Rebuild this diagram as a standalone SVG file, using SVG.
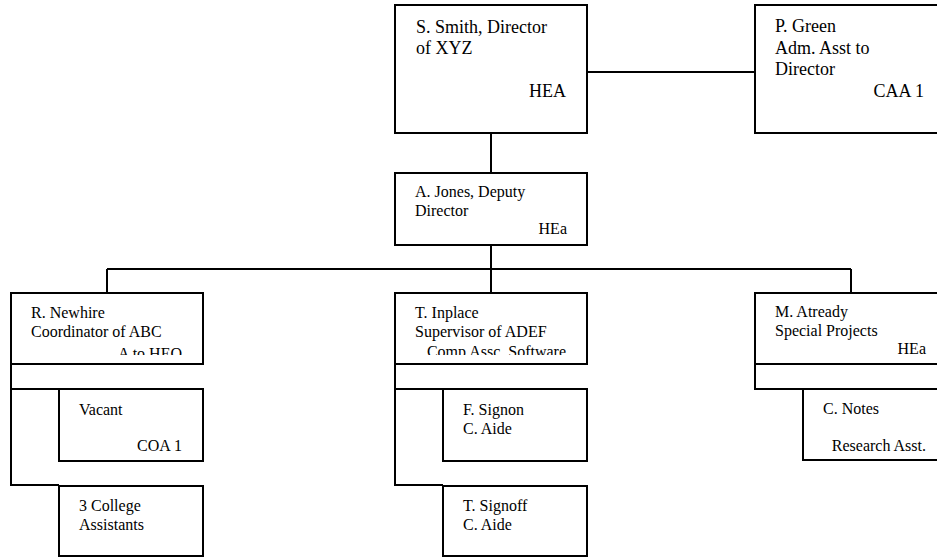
<svg xmlns="http://www.w3.org/2000/svg" width="937" height="557" viewBox="0 0 937 557">
<style>
  .box { fill: #fff; stroke: #000; stroke-width: 2; }
  .ln { stroke: #000; stroke-width: 2; fill: none; }
  .t { font-family: 'Liberation Serif', 'DejaVu Serif', serif; fill: #000; }
  .big { font-size: 18px; }
  .sm { font-size: 16px; }
  .r { text-anchor: end; }
</style>
<defs>
  <clipPath id="clipL"><rect x="11" y="293" width="192" height="62"/></clipPath>
  <clipPath id="clipM"><rect x="395" y="293" width="192" height="62"/></clipPath>
</defs>
<rect x="0" y="0" width="937" height="557" fill="#fff"/>
<g id="connectors">
  <line class="ln" x1="587" y1="72" x2="755" y2="72"/>
  <line class="ln" x1="491" y1="133" x2="491" y2="173"/>
  <line class="ln" x1="491" y1="245" x2="491" y2="293"/>
  <line class="ln" x1="107" y1="269" x2="851" y2="269"/>
  <line class="ln" x1="107" y1="269" x2="107" y2="293"/>
  <line class="ln" x1="851" y1="269" x2="851" y2="293"/>
  <polyline class="ln" points="11,364 11,485 59,485"/>
  <line class="ln" x1="11" y1="389" x2="59" y2="389"/>
  <polyline class="ln" points="395,364 395,485 443,485"/>
  <line class="ln" x1="395" y1="389" x2="443" y2="389"/>
  <polyline class="ln" points="755,364 755,389 803,389"/>
</g>
<g id="smith" class="t" font-family="Liberation Serif, serif">
  <rect class="box" x="395" y="5" width="192" height="128"/>
  <text class="t big" x="416" y="33">S. Smith, Director</text>
  <text class="t big" x="416" y="54">of XYZ</text>
  <text class="t big r" x="566" y="97">HEA</text>
</g>
<g id="green" class="t" font-family="Liberation Serif, serif">
  <rect class="box" x="755" y="5" width="200" height="128"/>
  <text class="t big" x="775" y="32">P. Green</text>
  <text class="t big" x="775" y="54">Adm. Asst to</text>
  <text class="t big" x="775" y="75">Director</text>
  <text class="t big r" x="924" y="97">CAA 1</text>
</g>
<g id="jones" class="t" font-family="Liberation Serif, serif">
  <rect class="box" x="395" y="173" width="192" height="72"/>
  <text class="t sm" x="415" y="197">A. Jones, Deputy</text>
  <text class="t sm" x="415" y="216">Director</text>
  <text class="t sm r" x="567" y="234">HEa</text>
</g>
<g id="newhire" class="t" font-family="Liberation Serif, serif">
  <rect class="box" x="11" y="293" width="192" height="71"/>
  <text class="t sm" x="31" y="318">R. Newhire</text>
  <text class="t sm" x="31" y="337">Coordinator of ABC</text>
  <text class="t sm r" x="182" y="358.5" clip-path="url(#clipL)">A to HEO</text>
</g>
<g id="inplace" class="t" font-family="Liberation Serif, serif">
  <rect class="box" x="395" y="293" width="192" height="71"/>
  <text class="t sm" x="415" y="318">T. Inplace</text>
  <text class="t sm" x="415" y="337">Supervisor of ADEF</text>
  <text class="t sm r" x="566" y="357" clip-path="url(#clipM)">Comp Assc. Software</text>
</g>
<g id="atready" class="t" font-family="Liberation Serif, serif">
  <rect class="box" x="755" y="293" width="200" height="71"/>
  <text class="t sm" x="775" y="317">M. Atready</text>
  <text class="t sm" x="775" y="336">Special Projects</text>
  <text class="t sm r" x="926" y="354">HEa</text>
</g>
<g id="vacant" class="t" font-family="Liberation Serif, serif">
  <rect class="box" x="59" y="389" width="144" height="72"/>
  <text class="t sm" x="79" y="415">Vacant</text>
  <text class="t sm r" x="182" y="451">COA 1</text>
</g>
<g id="college" class="t" font-family="Liberation Serif, serif">
  <rect class="box" x="59" y="486" width="144" height="70"/>
  <text class="t sm" x="79" y="511">3 College</text>
  <text class="t sm" x="79" y="530">Assistants</text>
</g>
<g id="signon" class="t" font-family="Liberation Serif, serif">
  <rect class="box" x="443" y="389" width="144" height="72"/>
  <text class="t sm" x="463" y="415">F. Signon</text>
  <text class="t sm" x="463" y="434">C. Aide</text>
</g>
<g id="signoff" class="t" font-family="Liberation Serif, serif">
  <rect class="box" x="443" y="486" width="144" height="70"/>
  <text class="t sm" x="463" y="511">T. Signoff</text>
  <text class="t sm" x="463" y="530">C. Aide</text>
</g>
<g id="notes" class="t" font-family="Liberation Serif, serif">
  <rect class="box" x="803" y="389" width="150" height="71"/>
  <text class="t sm" x="823" y="414">C. Notes</text>
  <text class="t sm r" x="926" y="451">Research Asst.</text>
</g>
</svg>
